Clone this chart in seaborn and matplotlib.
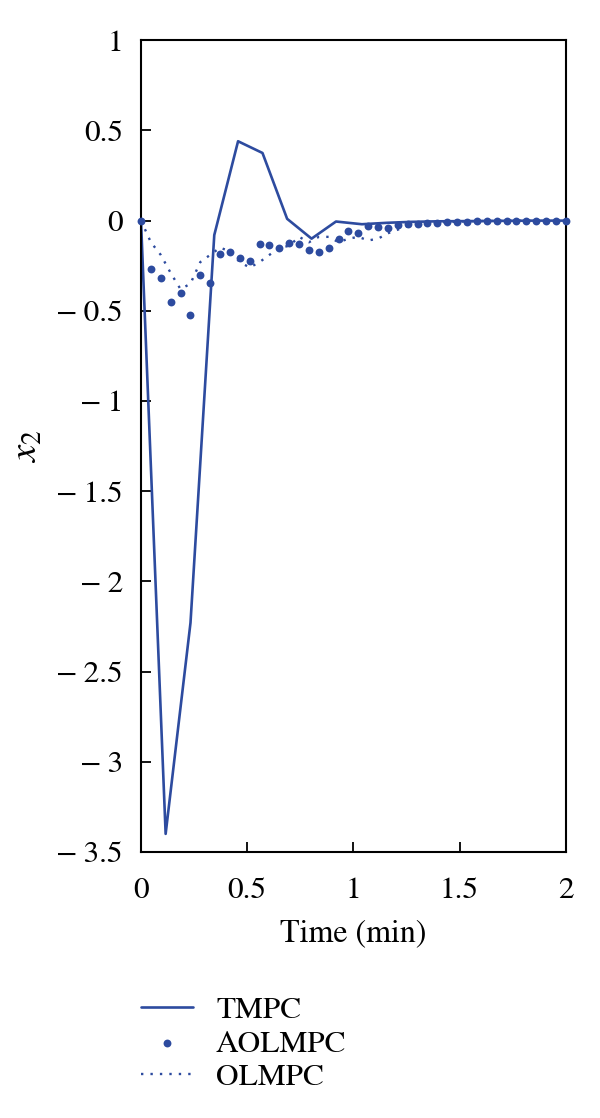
# x2 response of three MPC schemes
import numpy as np
import pandas as pd
import matplotlib
matplotlib.use("Agg")
import matplotlib.pyplot as plt
import seaborn as sns

# data
t_tmpc = [0, 0.116, 0.233, 0.345, 0.457, 0.572, 0.688, 0.803, 0.918, 1.04,
          1.16, 1.27, 1.39, 1.50, 1.62, 1.73, 1.85, 1.96, 2.0]
x2_tmpc = [0, -3.40, -2.23, -0.08, 0.44, 0.375, 0.01, -0.10, -0.005, -0.02,
           -0.012, -0.007, -0.004, -0.003, -0.002, -0.001, 0, 0, 0]

t_grid = list(np.linspace(0, 2, 44))
x2_aolmpc = [0, -0.27, -0.32, -0.45, -0.40, -0.525, -0.30, -0.345, -0.185, -0.172,
             -0.21, -0.225, -0.13, -0.133, -0.152, -0.122, -0.13, -0.163, -0.176, -0.153,
             -0.10, -0.055, -0.068, -0.03, -0.033, -0.039, -0.024, -0.02, -0.017, -0.015,
             -0.012, -0.008, -0.006, -0.005, -0.004, -0.003, -0.002, -0.002, -0.001, -0.001,
             0, 0, 0, 0]
x2_olmpc = [0, -0.12, -0.19, -0.29, -0.38, -0.35, -0.23, -0.19, -0.15, -0.17,
            -0.23, -0.26, -0.23, -0.19, -0.15, -0.14, -0.09, -0.12, -0.09, -0.09,
            -0.12, -0.10, -0.09, -0.11, -0.10, -0.07, -0.05, -0.03, -0.02, -0.015,
            -0.01, -0.008, -0.006, -0.004, -0.003, -0.002, -0.002, -0.001, -0.001, 0,
            0, 0, 0, 0]

x_ticks = [0, 0.5, 1, 1.5, 2]
x_ticklabels = ["0", "0.5", "1", "1.5", "2"]
y_ticks = [1, 0.5, 0, -0.5, -1, -1.5, -2, -2.5, -3, -3.5]
y_ticklabels = ["1", "0.5", "0", "\u2212\u20090.5", "\u2212\u20091", "\u2212\u20091.5",
                "\u2212\u20092", "\u2212\u20092.5", "\u2212\u20093", "\u2212\u20093.5"]

blue = "#2d4b9f"

sns.set_theme(style="ticks")
plt.rcParams["font.family"] = ["STIXGeneral", "Liberation Serif", "DejaVu Serif"]
plt.rcParams["mathtext.fontset"] = "stix"
plt.rcParams["text.color"] = "black"
plt.rcParams["axes.labelcolor"] = "black"

fig = plt.figure(figsize=(6, 11.18), dpi=100)
ax = fig.add_axes([0.235, 0.238, 0.708, 0.726])

sns.lineplot(x=t_tmpc, y=x2_tmpc, ax=ax, color=blue, linewidth=1.9, label="TMPC")
sns.scatterplot(x=t_grid, y=x2_aolmpc, ax=ax, color=blue, s=32, linewidth=0,
                label="AOLMPC", clip_on=False, zorder=3)
sns.lineplot(x=t_grid, y=x2_olmpc, ax=ax, color=blue, linewidth=1.7,
             linestyle=(0, (1, 3)), label="OLMPC")

ax.set_xlim(0, 2)
ax.set_ylim(-3.5, 1)
ax.set_xticks(x_ticks)
ax.set_xticklabels(x_ticklabels)
ax.set_yticks(y_ticks)
ax.set_yticklabels(y_ticklabels)
ax.tick_params(direction="in", length=7, width=1.3, labelsize=22.5, colors="black",
               top=False, right=False)
ax.tick_params(axis="x", pad=18)
ax.tick_params(axis="y", pad=13)
for sp in ax.spines.values():
    sp.set_linewidth(1.5)
    sp.set_color("black")

ax.set_xlabel("Time (min)", fontsize=23, labelpad=10)
ax.set_ylabel("$x_2$", fontsize=28, labelpad=8)

handles, labels = ax.get_legend_handles_labels()
ax.get_legend().remove()
fig.legend(handles, labels, loc="upper left", bbox_to_anchor=(0.235, 0.109),
           frameon=False, fontsize=22.5, handlelength=1.65, handletextpad=0.75,
           labelspacing=0.15, borderpad=0, borderaxespad=0)

fig.savefig("out.png", dpi=100)
